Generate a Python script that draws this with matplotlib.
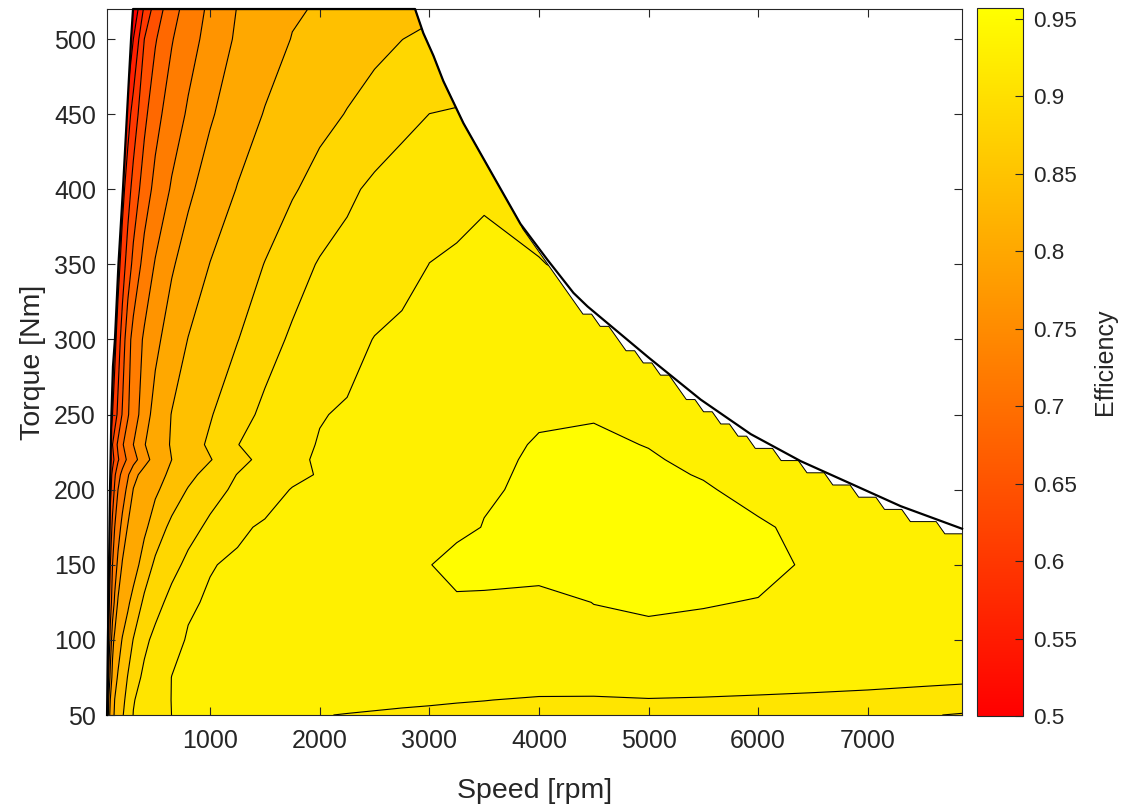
import numpy as np
import matplotlib
matplotlib.use("Agg")
import matplotlib.pyplot as plt
from matplotlib.patches import Polygon
from matplotlib.colors import Normalize
from matplotlib.cm import ScalarMappable

# grid: speed [rpm] columns, torque [Nm] rows
speed = [60, 75, 90, 110, 130, 160, 200, 250, 300, 400, 500, 650, 800, 1000, 1250, 1500,
         1750, 2000, 2250, 2500, 2750, 3000, 3250, 3500, 4000, 4500, 5000, 5500, 6000,
         6500, 7000, 7500, 7860]
torque = [50, 60, 75, 100, 125, 150, 175, 200, 210, 220, 230, 250, 300, 350, 400, 450, 500, 520]

eff_50 = [.72, .82, .8511, .8733, .8830, .8895, .8981, .91, .9205, .9262, .9320, .9401, .9411,
          .9425, .94275, .943, .9416, .9402, .9398, .9394, .9389, .9384, .9377, .937, .934,
          .933, .932, .930, .928, .926, .923, .921, .919]
eff_60 = [.692, .80, .8411, .8621, .8806, .8868, .8951, .9065, .919, .9263, .9329, .9403, .9415,
          .943, .94325, .9435, .94275, .942, .94175, .9415, .94125, .941, .9406, .9402, .939,
          .9389, .9396, .9392, .9385, .9375, .936, .9325, .928]
eff_75 = [.65, .7545, .8154, .8507, .8684, .8833, .8911, .9009, .9115, .9242, .9312, .9402, .9416,
          .9435, .944, .9445, .94475, .945, .94513, .94525, .94538, .9455, .9455, .9455, .9455,
          .9455, .9455, .9455, .9453, .9452, .945, .945, .945]
eff_100 = [.6333, .7115, .7667, .8286, .8486, .8649, .8822, .8915, .9006, .9155, .9251, .9359,
           .9411, .9435, .945, .94567, .94633, .947, .94725, .9475, .94775, .948, .94813,
           .94825, .9485, .94825, .948, .948, .9475, .947, .94663, .94626, .946]
eff_125 = [.5833, .6792, .7278, .7722, .8087, .8443, .8586, .8764, .8875, .9033, .913, .9263,
           .9383, .94146, .9435, .945, .94575, .9465, .947, .9475, .94775, .948, .9496, .9493,
           .948, .9501, .9512, .9504, .9497, .948, .947, .94642, .946]
eff_150 = [.575, .65, .70, .75, .775, .8111, .8437, .8567, .8698, .8903, .9031, .9138, .9247,
           .9393, .94196, .944, .9455, .947, .948, .949, .94935, .9499, .951, .9515, .9525,
           .954, .955, .9535, .952, .949, .948, .947, .9465]
eff_175 = [.5375, .6208, .669, .713, .75, .78, .8138, .8426, .8536, .8756, .8904, .9043, .9129,
           .9241, .9377, .9418, .944, .945, .946, .947, .948, .94865, .9493, .9501, .952, .954,
           .9545, .953, .9506, .9487, .947, .946, .9455]
eff_200 = [.525, .5875, .6353, .675, .7071, .75, .7778, .8118, .8412, .8589, .8765, .89, .9011,
           .9122, .9242, .9337, .94075, .943, .9445, .946, .947, .948, .94885, .9497, .9505,
           .952, .9515, .9505, .9485, .947, .946, .944, .943]
eff_210 = [.5083, .5708, .6222, .6643, .6929, .7313, .7649, .7946, .8288, .8537, .8699, .8855,
           .8949, .9068, .9206, .9285, .9364, .94105, .943, .9445, .946, .947, .948, .9495,
           .9505, .9515, .951, .9497, .948, .9465, .945, .944, .943]
eff_220 = [.4971, .5412, .5853, .63, .6611, .6944, .7269, .7595, .7833, .8274, .8527, .88, .8882,
           .899, .9134, .9262, .9377, .94133, .943, .9445, .946, .947, .948, .949, .9506, .951,
           .9503, .9493, .9478, .946, .9445, .9435, .943]
eff_230 = [.50, .5536, .6045, .65, .675, .7091, .7455, .7737, .80, .8381, .86, .8831, .8914,
           .903, .9196, .9278, .9359, .94082, .9425, .944, .9455, .9465, .9475, .9485, .9504,
           .9505, .9499, .9485, .947, .9455, .944, .943, .942]
eff_250 = [.5167, .5417, .5667, .60, .625, .6611, .7042, .7458, .7765, .824, .853, .8812, .8886,
           .8985, .9129, .924, .9316, .9393, .94143, .943, .9445, .946, .947, .948, .9494,
           .9498, .9485, .947, .9455, .944, .943, .942, .941]
eff_300 = [.4667, .4917, .5167, .55, .5833, .625, .6722, .7313, .7667, .8071, .8308, .8585,
           .8809, .8891, .8994, .9126, .9227, .929, .9352, .94046, .9425, .944, .94525, .9465,
           .9475, .947, .946, .945, .944, .94292, .94185, .94077, .9399]
eff_350 = [.4357, .4571, .4786, .5071, .5357, .5786, .625, .6727, .7133, .7676, .8036, .8357,
           .8568, .8808, .8906, .9005, .9121, .9215, .9263, .9312, .936, .9401, .941, .9415,
           .9405, .9369, .934, .932, .93, .9289, .9278, .9268, .926]
eff_400 = [.4063, .425, .4438, .4688, .4938, .5313, .5813, .6292, .6679, .725, .7636, .8053,
           .8327, .8575, .8815, .8898, .898, .907, .9163, .9238, .93, .935, .9375, .9392,
           .9355, .93, .925, .9233, .9215, .9198, .918, .9163, .915]
eff_450 = [.3667, .3833, .40, .4222, .4444, .4778, .5222, .5778, .6214, .6875, .7333, .775,
           .8059, .8356, .862, .8818, .8881, .8944, .9008, .9073, .9138, .9201, .9215, .915,
           .91, .905, .9035, .902, .9005, .899, .8975, .8961, .895]
eff_500 = [.30, .30, .3167, .3389, .3611, .3944, .4389, .4944, .55, .65, .6955, .7467, .7818,
           .816, .8455, .8651, .8811, .8858, .8905, .8951, .8998, .904, .905, .8995, .8977,
           .8954, .8931, .8908, .8885, .8862, .8839, .8817, .88]
eff_520 = [.30, .30, .30, .30, .3196, .3522, .3957, .45, .5043, .6094, .6718, .7301, .771,
           .8096, .8414, .8589, .8765, .8827, .886, .889, .892, .896, .897, .895, .8927, .8904,
           .8881, .8858, .8835, .8812, .8789, .8767, .875]

eff = np.array([eff_50, eff_60, eff_75, eff_100, eff_125, eff_150, eff_175, eff_200, eff_210,
                eff_220, eff_230, eff_250, eff_300, eff_350, eff_400, eff_450, eff_500, eff_520])

levels = [0.55, 0.6, 0.65, 0.7, 0.75, 0.8, 0.84, 0.88, 0.9, 0.92, 0.94, 0.95]

# operating limits: low speed edge and max torque envelope
left_speed = [60, 68, 78, 87, 100, 114, 132, 164, 205, 242, 279, 297]
left_torque = [50, 100, 150, 200, 250, 282, 300, 350, 400, 450, 500, 520]
env_speed = [2870, 2945, 3037, 3128, 3311, 3466, 3621, 3831, 4078, 4315, 4443, 5000, 5475,
             5932, 6388, 6845, 7301, 7860]
env_torque = [520, 504, 489, 472, 444, 424, 404, 377, 353, 331, 322, 288, 260, 237, 219, 204,
              189, 174]

plt.rcParams['font.family'] = ['Liberation Sans', 'DejaVu Sans']
txt = '#262626'

fig = plt.figure(figsize=(11.28, 8.05), dpi=100)
ax = fig.add_axes([0.0949, 0.1118, 0.758, 0.877])
cax = fig.add_axes([0.8661, 0.1106, 0.0408, 0.8795])

cmap = plt.get_cmap('autumn')
norm = Normalize(0.5, 0.957)
# shade of each band, matched to the reference fill colours
band_shade = [0.5, 0.557, 0.6, 0.643, 0.686, 0.722, 0.765, 0.801, 0.844, 0.885, 0.909, 0.93, 0.952]
band_colors = [cmap(norm(v)) for v in band_shade]

cf = ax.contourf(speed, torque, eff, levels=[0.0] + levels + [1.0], colors=band_colors)
cl = ax.contour(speed, torque, eff, levels=levels, colors='k', linewidths=0.8)

# on the flat part of the limit the filled map stops on the last solver grid
# row below the torque limit, leaving small notches under the envelope line
row_step = 520 / 64
stair_from = 3831
grid_s = np.linspace(0, 7860, 101)
row_top = np.floor(np.interp(grid_s, env_speed, env_torque, left=520) / row_step + 1e-9) * row_step
stair = [(s, t) for s, t in zip(env_speed, env_torque) if s <= stair_from]
for j in range(1, len(grid_s)):
    if grid_s[j] <= stair_from:
        continue
    if row_top[j - 1] - row_top[j] > row_step + 1e-6:
        stair.append((grid_s[j - 1], row_top[j] + row_step))
    stair.append((grid_s[j], row_top[j]))

outline = list(zip(left_speed, left_torque)) + stair + [(speed[-1], torque[0]), (speed[0], torque[0])]
region = Polygon(outline, closed=True, facecolor='none', edgecolor='none', transform=ax.transData)
ax.add_patch(region)
cf.set_clip_path(region)
cl.set_clip_path(region)

ax.plot([p[0] for p in stair], [p[1] for p in stair], color='k', lw=0.7, zorder=3)
ax.plot(left_speed + env_speed, left_torque + env_torque, color='k', lw=1.6, clip_on=False, zorder=3)

ax.set_xlim(60, 7860)
ax.set_ylim(50, 520)
ax.set_xticks(range(1000, 7001, 1000))
ax.set_yticks(range(50, 501, 50))
ax.set_axisbelow(False)
ax.tick_params(direction='in', top=True, right=True, length=6, width=0.8,
               color=txt, labelcolor=txt, labelsize=18)
ax.tick_params(axis='x', pad=10)
ax.tick_params(axis='y', pad=8)
for s in ax.spines.values():
    s.set_color(txt)
    s.set_linewidth(0.8)
ax.set_xlabel('Speed [rpm]', fontsize=20.5, color=txt, labelpad=18)
ax.set_ylabel('Torque [Nm]', fontsize=20.5, color=txt, labelpad=6)

cb = fig.colorbar(ScalarMappable(norm=norm, cmap=cmap), cax=cax)
cb.set_ticks([0.5, 0.55, 0.6, 0.65, 0.7, 0.75, 0.8, 0.85, 0.9, 0.95])
cb.set_ticklabels(['0.5', '0.55', '0.6', '0.65', '0.7', '0.75', '0.8', '0.85', '0.9', '0.95'])
cax.tick_params(direction='in', length=6, width=0.8, color=txt, labelcolor=txt,
                labelsize=16.2, pad=7)
cb.outline.set_edgecolor(txt)
cb.outline.set_linewidth(0.8)
cb.set_label('Efficiency', fontsize=18, color=txt, labelpad=12)

fig.savefig('out.png', dpi=100)
